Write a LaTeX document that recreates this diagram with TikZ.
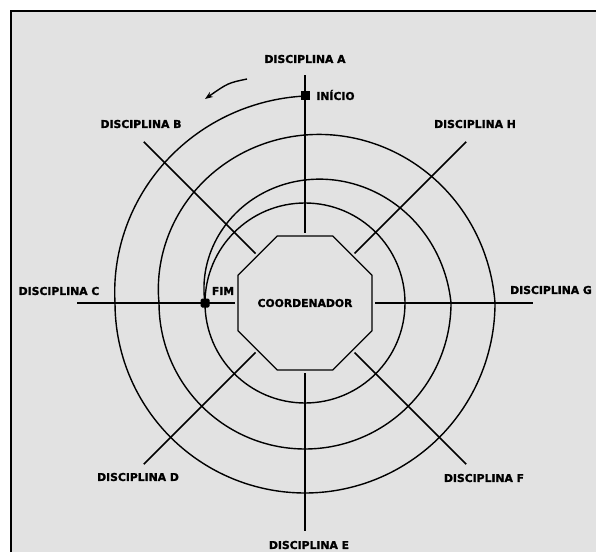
\documentclass[tikz,border=0pt]{standalone}
\usepackage{fontspec}
\newfontfamily\labfont{DejaVu Sans}[BoldFeatures={FakeBold=1.5}]
\usetikzlibrary{arrows.meta,shapes.geometric}
\definecolor{bg}{RGB}{226,226,226}
\begin{document}
\begin{tikzpicture}[x=1pt,y=1pt,
  lab/.style={font=\labfont\bfseries\fontsize{10.8}{12}\selectfont, inner sep=0pt, text height=7.9pt, text depth=0pt},
  ring/.style={line width=1.4pt},
  spoke/.style={line width=1.6pt},
  marker/.style={fill=black, minimum size=9pt, inner sep=0pt},
  declare function={sr(\t)=207-17*min(max((\t-90)/90,0),1)-44*min(max((\t-360)/180,0),1)-46*min(max((\t-720)/180,0),1);}
]
\useasboundingbox (0,0) rectangle (596,552);
\fill[bg] (11,0) rectangle (596,541);
\draw[line width=1.8pt] (11,0) -- (11,541) -- (596,541);
\coordinate (c) at (305,249);
% spokes
\foreach \a in {0,45,...,315} \draw[spoke] (c) ++(\a:70) -- ++(\a:158);
% spiral
\draw[ring] plot[domain=90:900,samples=361,smooth] ({305+sr(\x)*cos(\x)},{249+sr(\x)*sin(\x)});
\draw[ring] (c) circle[radius=100];
% coordinator
\node[draw, regular polygon, regular polygon sides=8, minimum size=113.6pt, line width=1.3pt, lab, fill=bg] (coord) at (c) {COORDENADOR};
% markers
\node[marker] (ini) at (305,456) {};
\node[marker, rounded corners=1.5pt] (fim) at (205,249) {};
\node[lab, anchor=west] (initxt) at ([xshift=6.5pt]ini.east) {INÍCIO};
\node[lab] (fimtxt) at (223,261) {FIM};
% labels
\node[lab] (dA) at (305,493) {DISCIPLINA A};
\node[lab] (dB) at (141,428) {DISCIPLINA B};
\node[lab] (dH) at (475,428) {DISCIPLINA H};
\node[lab] (dC) at (59,261) {DISCIPLINA C};
\node[lab] (dG) at (551,262) {DISCIPLINA G};
\node[lab] (dD) at (138,75) {DISCIPLINA D};
\node[lab] (dF) at (484,74) {DISCIPLINA F};
\node[lab] (dE) at (309,7) {DISCIPLINA E};
% direction arrow
\coordinate (a1) at (247,473);
\coordinate (a2) at (205,453);
\draw[line width=1.4pt,-{Stealth[length=8pt,width=6pt]}] (a1) .. controls (228,469) .. (a2);
\end{tikzpicture}
\end{document}
